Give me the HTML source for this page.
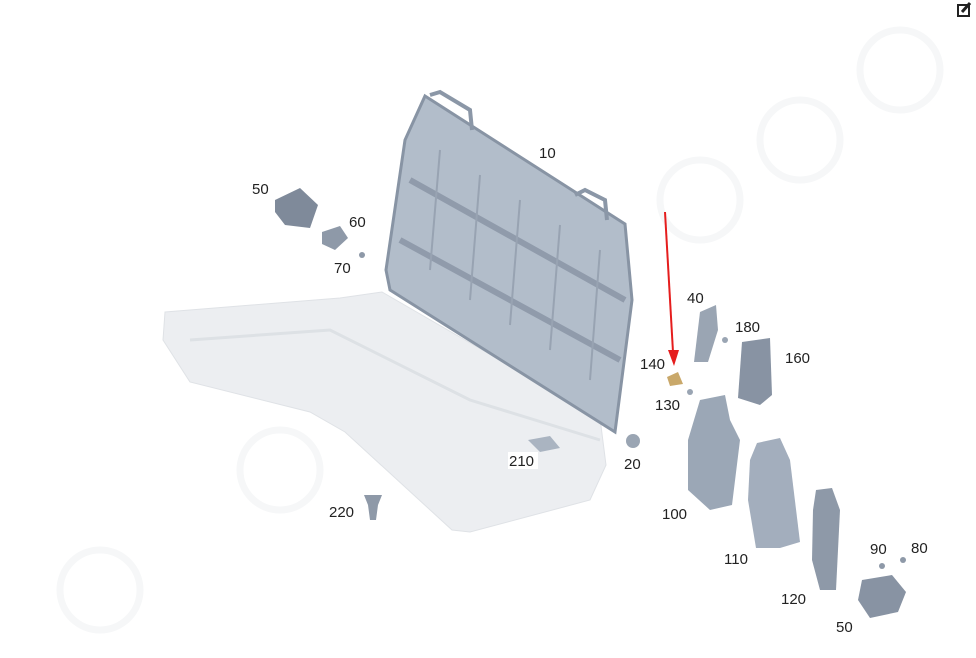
<!DOCTYPE html>
<html><head><style>
html,body{margin:0;padding:0;background:#fff;}
svg{display:block}
text{font-family:"Liberation Sans",sans-serif;font-size:15px;fill:#222}
</style></head><body>
<svg width="976" height="658" viewBox="0 0 976 658">
<rect width="976" height="658" fill="#fff"/>
<!-- edit icon -->
<rect x="958" y="5" width="11" height="11" fill="none" stroke="#222" stroke-width="2"/>
<path d="M962 12 L970 3" stroke="#222" stroke-width="3"/>
<!-- watermark -->
<g fill="none" stroke="#f6f7f8" stroke-width="7">
<circle cx="900" cy="70" r="40"/><circle cx="800" cy="140" r="40"/><circle cx="700" cy="200" r="40"/>
<circle cx="280" cy="470" r="40"/><circle cx="100" cy="590" r="40"/>
</g>
<!-- seat cushion -->
<path d="M165 312 L340 298 L382 292 L600 418 L606 465 L590 500 L470 532 L452 530 L345 432 L310 412 L190 382 L163 340 Z" fill="#eceef1" stroke="#dfe2e6"/>
<path d="M190 340 L330 330 L470 400 L600 440" fill="none" stroke="#dde1e5" stroke-width="3"/>
<!-- frame -->
<path d="M425 96 L625 224 L632 300 L615 432 L390 290 L386 270 L405 140 Z" fill="#b2bdca" stroke="#8894a4" stroke-width="3"/>
<path d="M410 180 L625 300 M400 240 L620 360" stroke="#909bab" stroke-width="6"/>
<g stroke="#98a3b2" stroke-width="2">
<path d="M440 150 L430 270 M480 175 L470 300 M520 200 L510 325 M560 225 L550 350 M600 250 L590 380"/>
</g>
<path d="M430 95 L440 92 L470 110 L472 130" fill="none" stroke="#8b97a7" stroke-width="4"/>
<path d="M575 195 L585 190 L605 200 L607 220" fill="none" stroke="#8b97a7" stroke-width="4"/>
<!-- part 50 top -->
<path d="M275 200 L300 188 L318 205 L310 228 L285 225 L275 212 Z" fill="#7f8a9a"/>
<!-- 60 -->
<path d="M322 232 L340 226 L348 238 L335 250 L322 244 Z" fill="#8e99a8"/>
<circle cx="362" cy="255" r="3" fill="#8e99a8"/>
<!-- 20 -->
<circle cx="633" cy="441" r="7" fill="#9aa5b3"/>
<!-- 210 -->
<path d="M528 440 L550 436 L560 448 L540 452 Z" fill="#aab4c1"/>
<!-- 220 -->
<path d="M364 495 L382 495 L378 505 L376 520 L370 520 L368 505 Z" fill="#8e99a8"/>
<!-- 40 -->
<path d="M700 312 L716 305 L718 330 L708 362 L694 362 Z" fill="#9aa5b3"/>
<circle cx="725" cy="340" r="3" fill="#9aa5b3"/>
<!-- 160 -->
<path d="M742 342 L770 338 L772 395 L760 405 L738 398 Z" fill="#8893a3"/>
<!-- 140 -->
<path d="M667 377 L678 372 L683 384 L670 386 Z" fill="#c9a86a"/>
<circle cx="690" cy="392" r="3" fill="#9aa5b3"/>
<!-- 100 -->
<path d="M700 400 L725 395 L730 420 L740 440 L732 505 L710 510 L688 490 L688 440 Z" fill="#9ba7b6"/>
<!-- 110 -->
<path d="M757 443 L780 438 L790 460 L800 542 L780 548 L756 548 L748 500 L750 460 Z" fill="#a3aebd"/>
<!-- 120 -->
<path d="M816 490 L832 488 L840 510 L836 590 L820 590 L812 560 L813 510 Z" fill="#8e99a8"/>
<!-- 50 bottom -->
<path d="M862 580 L892 575 L906 592 L898 612 L870 618 L858 600 Z" fill="#8893a3"/>
<circle cx="882" cy="566" r="3" fill="#8e99a8"/><circle cx="903" cy="560" r="3" fill="#8e99a8"/>
<!-- red arrow -->
<line x1="665" y1="212" x2="673" y2="352" stroke="#e51d1d" stroke-width="2"/>
<path d="M668 350 L679 350 L674 366 Z" fill="#e51d1d"/>
<!-- labels -->
<text x="539" y="158">10</text>
<text x="252" y="194">50</text>
<text x="349" y="227">60</text>
<text x="334" y="273">70</text>
<text x="687" y="303">40</text>
<text x="735" y="332">180</text>
<text x="785" y="363">160</text>
<text x="640" y="369">140</text>
<text x="655" y="410">130</text>
<text x="624" y="469">20</text>
<rect x="508" y="452" width="30" height="17" fill="#fff"/>
<text x="509" y="466">210</text>
<text x="329" y="517">220</text>
<text x="662" y="519">100</text>
<text x="724" y="564">110</text>
<text x="781" y="604">120</text>
<text x="870" y="554">90</text>
<text x="911" y="553">80</text>
<text x="836" y="632">50</text>
</svg>
</body></html>
